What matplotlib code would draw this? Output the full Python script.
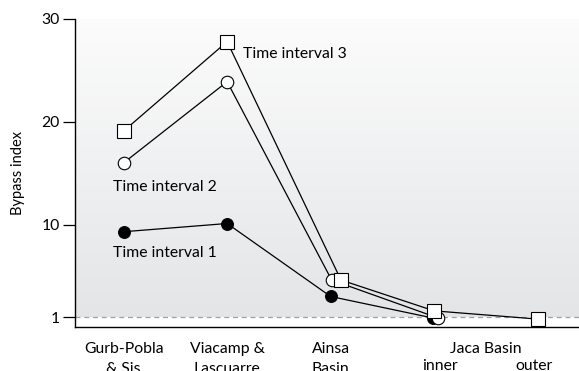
import numpy as np
import matplotlib.pyplot as plt

plt.rcParams['font.family'] = ['Lato', 'DejaVu Sans']

# site positions (Ainsa / Jaca points are slightly shifted in the original)
t1_x = [0, 1, 2.0, 2.99]
t1_y = [9.3, 10.1, 3.0, 0.9]
t2_x = [0, 1, 2.01, 3.04]
t2_y = [16.0, 23.9, 4.6, 0.9]
t3_x = [0, 1, 2.1, 3.0, 4.0]
t3_y = [19.1, 27.8, 4.6, 1.6, 0.8]

yticks = [1, 10, 20, 30]
site_labels = ['Gurb-Pobla\n& Sis', 'Viacamp &\nLascuarre', 'Ainsa\nBasin']

fig = plt.figure(figsize=(5.79, 3.71), dpi=100)
ax = fig.add_axes([75 / 579, 1 - 327.3 / 371, 1 - 75 / 579, (327.3 - 19) / 371])

x0, x1 = -0.47, 4.4
ax.set_xlim(x0, x1)
ax.set_ylim(0, 30)

# gradient background, white at the top to light grey at y=1
grad = np.linspace(0, 1, 256).reshape(-1, 1)
top = np.array([1.0, 1.0, 1.0])
bot = np.array([228, 229, 231]) / 255
img = top * (1 - grad[..., None]) + bot * grad[..., None]
ax.imshow(img, extent=[x0, x1, 1, 34], aspect='auto', zorder=0, origin='upper')
ax.axhline(1, color='#a0a0a0', lw=0.9, ls=(0, (4, 3)), zorder=1)

lw = 0.9
ax.plot(t1_x, t1_y, color='black', lw=lw, marker='o', ms=8.5,
        mfc='black', mec='black', mew=0.8, zorder=3)
ax.plot(t2_x, t2_y, color='black', lw=lw, marker='o', ms=9,
        mfc='white', mec='black', mew=0.8, zorder=4)
ax.plot(t3_x, t3_y, color='black', lw=lw, marker='s', ms=9.5,
        mfc='white', mec='black', mew=0.8, zorder=5)

fs = 11.3
ax.text(1.15, 26.6, 'Time interval 3', fontsize=fs, va='center', ha='left')
ax.text(-0.1, 13.7, 'Time interval 2', fontsize=fs, va='center', ha='left')
ax.text(-0.1, 7.2, 'Time interval 1', fontsize=fs, va='center', ha='left')

for i, lab in enumerate(site_labels):
    ax.text(i, -1.4, lab, fontsize=fs, ha='center', va='top',
            linespacing=1.55, clip_on=False)
ax.text(3.5, -1.4, 'Jaca Basin', fontsize=fs, ha='center', va='top', clip_on=False)
ax.text(3.06, -3.1, 'inner', fontsize=fs, ha='center', va='top', clip_on=False)
ax.text(3.97, -3.1, 'outer', fontsize=fs, ha='center', va='top', clip_on=False)

ax.set_yticks(yticks)
ax.set_yticklabels([str(v) for v in yticks], fontsize=fs)
ax.set_xticks([])
ax.tick_params(axis='y', length=9, width=0.9, pad=2)
ax.set_ylabel('Bypass index', fontsize=10.5, labelpad=12)

ax.spines['top'].set_visible(False)
ax.spines['right'].set_visible(False)
ax.spines['left'].set_linewidth(1.0)
ax.spines['bottom'].set_linewidth(1.0)

fig.savefig('out.png', dpi=100)
